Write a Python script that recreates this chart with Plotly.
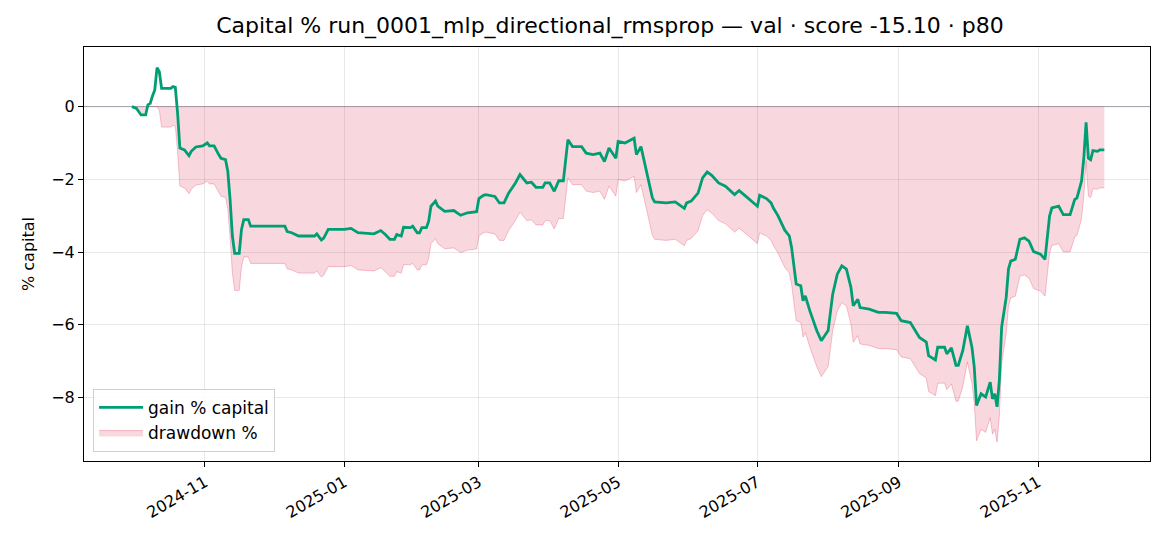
import pandas as pd
import plotly.graph_objects as go

# equity curve, % gain on starting capital
dates = [
    "2024-09-30", "2024-10-02", "2024-10-04", "2024-10-06", "2024-10-07", "2024-10-08",
    "2024-10-09", "2024-10-10", "2024-10-11", "2024-10-12", "2024-10-13", "2024-10-17",
    "2024-10-18", "2024-10-19", "2024-10-20", "2024-10-21", "2024-10-23", "2024-10-25",
    "2024-10-26", "2024-10-28", "2024-10-31", "2024-11-02", "2024-11-03", "2024-11-05",
    "2024-11-07", "2024-11-08", "2024-11-10", "2024-11-11", "2024-11-12", "2024-11-13",
    "2024-11-14", "2024-11-16", "2024-11-17", "2024-11-18", "2024-11-20", "2024-11-21",
    "2024-12-06", "2024-12-07", "2024-12-09", "2024-12-12", "2024-12-19", "2024-12-20",
    "2024-12-22", "2024-12-23", "2024-12-25", "2025-01-01", "2025-01-04", "2025-01-07",
    "2025-01-14", "2025-01-17", "2025-01-19", "2025-01-21", "2025-01-23", "2025-01-24",
    "2025-01-26", "2025-01-27", "2025-01-30", "2025-01-31", "2025-02-02", "2025-02-03",
    "2025-02-04", "2025-02-06", "2025-02-07", "2025-02-08", "2025-02-10", "2025-02-11",
    "2025-02-14", "2025-02-18", "2025-02-21", "2025-02-24", "2025-02-28", "2025-03-01",
    "2025-03-03", "2025-03-04", "2025-03-08", "2025-03-10", "2025-03-12", "2025-03-14",
    "2025-03-17", "2025-03-19", "2025-03-22", "2025-03-24", "2025-03-26", "2025-03-29",
    "2025-03-30", "2025-04-01", "2025-04-03", "2025-04-05", "2025-04-07", "2025-04-09",
    "2025-04-11", "2025-04-15", "2025-04-17", "2025-04-20", "2025-04-23", "2025-04-25",
    "2025-04-27", "2025-04-29", "2025-04-30", "2025-05-01", "2025-05-04", "2025-05-08",
    "2025-05-09", "2025-05-11", "2025-05-13", "2025-05-16", "2025-05-17", "2025-05-22",
    "2025-05-26", "2025-05-30", "2025-05-31", "2025-06-02", "2025-06-05", "2025-06-07",
    "2025-06-09", "2025-06-11", "2025-06-14", "2025-06-17", "2025-06-21", "2025-06-23",
    "2025-06-26", "2025-07-01", "2025-07-02", "2025-07-05", "2025-07-07", "2025-07-08",
    "2025-07-10", "2025-07-13", "2025-07-15", "2025-07-16", "2025-07-18", "2025-07-20",
    "2025-07-21", "2025-07-22", "2025-07-24", "2025-07-27", "2025-07-29", "2025-08-01",
    "2025-08-03", "2025-08-05", "2025-08-07", "2025-08-09", "2025-08-11", "2025-08-12",
    "2025-08-14", "2025-08-15", "2025-08-19", "2025-08-23", "2025-08-26", "2025-08-31",
    "2025-09-02", "2025-09-06", "2025-09-10", "2025-09-13", "2025-09-14", "2025-09-17",
    "2025-09-18", "2025-09-21", "2025-09-22", "2025-09-24", "2025-09-26", "2025-09-27",
    "2025-09-29", "2025-10-01", "2025-10-03", "2025-10-04", "2025-10-05", "2025-10-07",
    "2025-10-09", "2025-10-11", "2025-10-12", "2025-10-13", "2025-10-14", "2025-10-15",
    "2025-10-16", "2025-10-18", "2025-10-19", "2025-10-20", "2025-10-22", "2025-10-24",
    "2025-10-26", "2025-10-28", "2025-10-30", "2025-11-02", "2025-11-04", "2025-11-05",
    "2025-11-06", "2025-11-07", "2025-11-10", "2025-11-12", "2025-11-15", "2025-11-17",
    "2025-11-18", "2025-11-20", "2025-11-21", "2025-11-22", "2025-11-23", "2025-11-24",
    "2025-11-25", "2025-11-27", "2025-11-28", "2025-11-30",
]
gain_pct = [
    0.00, -0.05, -0.23, -0.23, 0.05, 0.09,
    0.29, 0.46, 1.07, 0.96, 0.50, 0.50,
    0.55, 0.53, -0.18, -1.14, -1.19, -1.35,
    -1.23, -1.11, -1.08, -1.00, -1.08, -1.08,
    -1.32, -1.42, -1.46, -1.78, -2.56, -3.56,
    -4.04, -4.04, -3.38, -3.11, -3.11, -3.29,
    -3.29, -3.44, -3.47, -3.56, -3.56, -3.50,
    -3.67, -3.62, -3.38, -3.38, -3.35, -3.47,
    -3.50, -3.41, -3.52, -3.65, -3.65, -3.52,
    -3.56, -3.32, -3.33, -3.29, -3.47, -3.47,
    -3.33, -3.33, -3.15, -2.74, -2.60, -2.74,
    -2.88, -2.86, -2.99, -2.92, -2.89, -2.53,
    -2.44, -2.42, -2.47, -2.65, -2.65, -2.38,
    -2.10, -1.87, -2.10, -2.08, -2.22, -2.22,
    -2.10, -2.10, -2.33, -2.04, -2.04, -0.91,
    -1.10, -1.10, -1.28, -1.32, -1.28, -1.51,
    -1.14, -1.32, -1.42, -0.96, -1.00, -0.87,
    -1.32, -1.10, -1.69, -2.51, -2.62, -2.65,
    -2.62, -2.80, -2.65, -2.60, -2.38, -1.96,
    -1.80, -1.89, -2.10, -2.19, -2.42, -2.31,
    -2.47, -2.74, -2.44, -2.53, -2.65, -2.79,
    -3.00, -3.40, -3.56, -3.88, -4.88, -4.93,
    -5.34, -5.21, -5.62, -6.16, -6.44, -6.16,
    -5.16, -4.61, -4.38, -4.47, -4.98, -5.48,
    -5.30, -5.53, -5.57, -5.66, -5.66, -5.69,
    -5.89, -5.94, -6.35, -6.48, -6.85, -6.97,
    -6.62, -6.62, -6.80, -6.64, -7.12, -7.12,
    -6.71, -6.03, -6.62, -7.16, -8.22, -7.90,
    -7.99, -7.58, -8.04, -7.90, -8.26, -7.53,
    -6.07, -5.25, -4.47, -4.25, -4.20, -3.65,
    -3.61, -3.70, -3.99, -4.06, -4.20, -3.52,
    -3.01, -2.79, -2.74, -2.97, -2.97, -2.56,
    -2.51, -2.05, -1.42, -0.43, -1.42, -1.46,
    -1.21, -1.23, -1.19, -1.19,
]

title_text = "Capital % run_0001_mlp_directional_rmsprop — val · score -15.10 · p80"

df = pd.DataFrame({"date": pd.to_datetime(dates), "gain": gain_pct})
# drawdown from running peak of equity
equity = 100 + df["gain"]
peak = equity.cummax()
df["dd"] = (equity - peak) / peak * 100

fig = go.Figure()

fig.add_trace(go.Scatter(
    x=df["date"], y=df["gain"],
    name="gain % capital",
    mode="lines",
    line=dict(color="#009E73", width=2.8),
))
fig.add_trace(go.Scatter(
    x=df["date"], y=df["dd"],
    name="drawdown %",
    mode="lines",
    fill="tozeroy",
    fillcolor="rgba(220,20,60,0.17)",
    line=dict(color="rgba(220,20,60,0.24)", width=1),
))
# keep the green line drawn on top of the fill
fig.data = (fig.data[1], fig.data[0])

fig.add_hline(y=0, line=dict(color="rgba(110,110,130,0.55)", width=1), layer="below")

# page body has an 8px margin, so the figure is a little smaller than the window
fig.update_layout(
    width=1162, height=538,
    paper_bgcolor="white", plot_bgcolor="white",
    font=dict(family="DejaVu Sans", size=16, color="black"),
    title=dict(text=title_text, x=0.518, xanchor="center", y=0.967, yanchor="middle",
               font=dict(size=22)),
    margin=dict(l=76, r=20, t=39, b=85),
    showlegend=True,
    legend=dict(x=0.0085, y=0.022, xanchor="left", yanchor="bottom",
                bgcolor="rgba(255,255,255,0.85)", bordercolor="#d0d0d0", borderwidth=1,
                font=dict(size=17), traceorder="reversed", itemwidth=44,
                tracegroupgap=4),
)

fig.update_xaxes(
    type="date",
    range=["2024-09-09", "2025-12-20"],
    tick0="2024-11-01", dtick="M2", tickformat="%Y-%m",
    tickangle=-30,
    automargin=False,
    showgrid=True, gridcolor="rgba(0,0,0,0.09)", gridwidth=1,
    showline=True, linecolor="black", linewidth=1, mirror=True,
    ticks="outside", ticklen=5, tickcolor="black",
    tickfont=dict(size=16),
    zeroline=False,
)
fig.update_yaxes(
    range=[-9.75, 1.64],
    tickmode="array", tickvals=[-8, -6, -4, -2, 0],
    automargin=False,
    title=dict(text="% capital", standoff=12, font=dict(size=16)),
    showgrid=True, gridcolor="rgba(0,0,0,0.09)", gridwidth=1,
    showline=True, linecolor="black", linewidth=1, mirror=True,
    ticks="outside", ticklen=5, tickcolor="black",
    tickfont=dict(size=16),
    zeroline=False,
)

fig.write_html("out.html")
